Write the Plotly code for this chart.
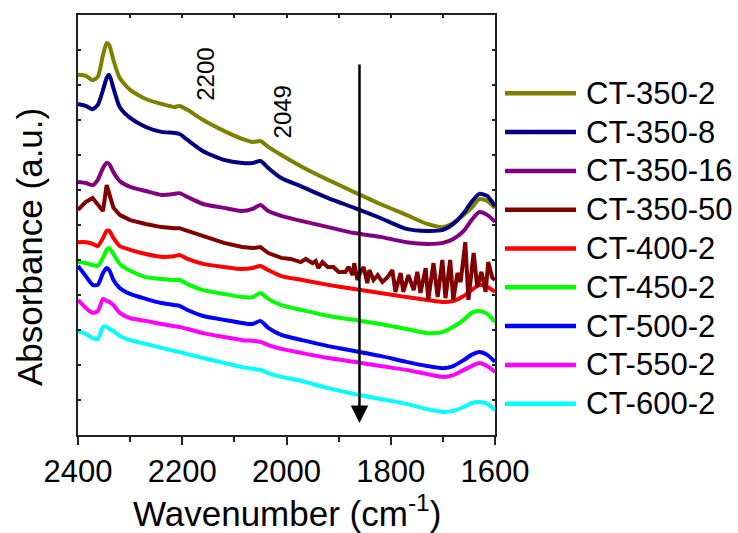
import plotly.graph_objects as go

# Shared wavenumber grid (cm^-1) for the smooth spectra
wavenumber = [2400, 2385, 2372, 2362, 2352, 2345, 2340, 2332, 2320, 2300,
              2270, 2240, 2215, 2205, 2190, 2160, 2120, 2085, 2065, 2050,
              2035, 2010, 1970, 1920, 1870, 1820, 1770, 1730, 1700, 1680,
              1660, 1645, 1630, 1615, 1600]

ct_350_2 = [10.29, 10.26, 10.14, 10.23, 10.86, 11.2, 11.14, 10.71, 10.2, 9.86,
            9.6, 9.46, 9.37, 9.4, 9.29, 9.0, 8.69, 8.46, 8.37, 8.4,
            8.23, 8.0, 7.66, 7.29, 6.94, 6.6, 6.29, 6.03, 5.94, 6.06,
            6.29, 6.49, 6.74, 6.69, 6.49]
ct_350_8 = [9.46, 9.4, 9.31, 9.43, 9.86, 10.2, 10.29, 9.91, 9.37, 9.06,
            8.8, 8.66, 8.63, 8.6, 8.43, 8.11, 7.86, 7.77, 7.77, 7.83,
            7.63, 7.34, 7.09, 6.77, 6.49, 6.2, 5.89, 5.83, 5.86, 6.03,
            6.34, 6.66, 6.89, 6.83, 6.54]
ct_350_16 = [7.23, 7.2, 7.14, 7.29, 7.63, 7.77, 7.74, 7.51, 7.26, 7.09,
             6.97, 6.86, 6.89, 6.91, 6.8, 6.6, 6.49, 6.4, 6.46, 6.57,
             6.4, 6.26, 6.11, 5.94, 5.77, 5.66, 5.51, 5.46, 5.49, 5.6,
             5.83, 6.14, 6.37, 6.29, 6.09]
ct_400_2 = [5.51, 5.51, 5.46, 5.4, 5.63, 5.83, 5.83, 5.63, 5.4, 5.29,
            5.17, 5.09, 5.11, 5.14, 5.03, 4.89, 4.8, 4.74, 4.77, 4.83,
            4.71, 4.54, 4.43, 4.29, 4.17, 4.06, 3.94, 3.86, 3.8, 3.83,
            3.97, 4.14, 4.29, 4.23, 4.09]
ct_450_2 = [4.94, 4.91, 4.86, 4.83, 5.06, 5.29, 5.34, 5.17, 4.89, 4.69,
            4.51, 4.46, 4.43, 4.43, 4.31, 4.14, 4.03, 3.94, 3.94, 4.06,
            3.89, 3.71, 3.57, 3.4, 3.29, 3.17, 3.03, 2.91, 2.94, 3.09,
            3.29, 3.49, 3.54, 3.46, 3.23]
ct_500_2 = [4.83, 4.54, 4.29, 4.29, 4.63, 4.77, 4.71, 4.43, 4.2, 4.03,
            3.89, 3.77, 3.71, 3.69, 3.57, 3.4, 3.29, 3.2, 3.17, 3.26,
            3.06, 2.86, 2.71, 2.54, 2.4, 2.26, 2.09, 1.97, 1.91, 1.97,
            2.14, 2.29, 2.37, 2.29, 2.09]
ct_550_2 = [3.86, 3.63, 3.49, 3.54, 3.89, 3.83, 3.8, 3.71, 3.49, 3.34,
            3.26, 3.17, 3.11, 3.09, 3.03, 2.91, 2.8, 2.71, 2.69, 2.66,
            2.57, 2.46, 2.34, 2.2, 2.09, 1.97, 1.86, 1.74, 1.66, 1.71,
            1.86, 1.97, 2.06, 1.97, 1.8]
ct_600_2 = [2.97, 2.89, 2.77, 2.74, 3.09, 3.09, 3.03, 2.97, 2.83, 2.71,
            2.6, 2.49, 2.4, 2.37, 2.31, 2.2, 2.06, 1.94, 1.89, 1.86,
            1.77, 1.66, 1.54, 1.34, 1.17, 1.03, 0.89, 0.74, 0.66, 0.69,
            0.8, 0.91, 0.94, 0.89, 0.71]

# CT-350-50 is noisy below ~2000 cm^-1, so it has its own denser grid
wavenumber_350_50 = [2400, 2385, 2372, 2362, 2352, 2345, 2340, 2332, 2320, 2300,
                     2270, 2240, 2215, 2205, 2190, 2160, 2120, 2085, 2065, 2050,
                     2035, 2010, 1992, 1973, 1963, 1950, 1944, 1939, 1931, 1921,
                     1910, 1900, 1887, 1881, 1873, 1870, 1864, 1858, 1852, 1845,
                     1841, 1833, 1825, 1816, 1806, 1797, 1791, 1781, 1776, 1766,
                     1756, 1749, 1743, 1733, 1728, 1718, 1710, 1701, 1695, 1686,
                     1680, 1672, 1666, 1657, 1651, 1641, 1634, 1626, 1618, 1613,
                     1605, 1600]
ct_350_50 = [6.43, 6.66, 6.77, 6.57, 6.4, 7.14, 6.86, 6.49, 6.29, 6.14,
             6.03, 5.94, 5.91, 5.91, 5.83, 5.69, 5.49, 5.37, 5.34, 5.37,
             5.2, 5.06, 5.03, 4.94, 5.03, 4.91, 4.97, 4.77, 4.94, 4.8,
             4.8, 4.66, 4.66, 4.8, 4.57, 4.91, 4.43, 4.66, 4.8, 4.34,
             4.71, 4.43, 4.57, 4.37, 4.51, 4.71, 4.09, 4.63, 4.09, 4.57,
             4.14, 4.66, 4.06, 4.77, 3.86, 4.91, 3.94, 5.0, 3.91, 5.0,
             3.86, 4.63, 4.37, 5.51, 3.86, 5.2, 4.23, 4.66, 4.09, 4.94,
             4.49, 4.43]

names = ["CT-350-2", "CT-350-8", "CT-350-16", "CT-350-50", "CT-400-2",
         "CT-450-2", "CT-500-2", "CT-550-2", "CT-600-2"]
colors = ["#808000", "#000080", "#800080", "#800000", "#ff0000",
          "#00ff00", "#0000ff", "#ff00ff", "#00ffff"]

series = {
    "CT-350-2": (wavenumber, ct_350_2),
    "CT-350-8": (wavenumber, ct_350_8),
    "CT-350-16": (wavenumber, ct_350_16),
    "CT-350-50": (wavenumber_350_50, ct_350_50),
    "CT-400-2": (wavenumber, ct_400_2),
    "CT-450-2": (wavenumber, ct_450_2),
    "CT-500-2": (wavenumber, ct_500_2),
    "CT-550-2": (wavenumber, ct_550_2),
    "CT-600-2": (wavenumber, ct_600_2),
}

# marked band positions and the trend arrow
band_labels = [("2200", 2157, 10.31), ("2049", 2007, 9.24)]
arrow_wavenumber = 1860
arrow_from, arrow_to = 10.63, 0.34

FONT = "Arial, Liberation Sans, sans-serif"
W, H = 738, 533
ML, MR, MT, MB = 78, 243, 15, 98
plot_w, plot_h = W - ML - MR, H - MT - MB

fig = go.Figure()

draw_order = ["CT-350-2", "CT-350-8", "CT-350-16", "CT-400-2", "CT-350-50",
              "CT-450-2", "CT-500-2", "CT-550-2", "CT-600-2"]
for name in draw_order:
    wn, ab = series[name]
    col = colors[names.index(name)]
    noisy = name == "CT-350-50"
    fig.add_trace(go.Scatter(
        x=wn, y=ab, mode="lines", name=name, showlegend=False,
        line=dict(color=col, width=4,
                  shape="linear" if noisy else "spline",
                  smoothing=0.6 if not noisy else None),
    ))

shapes = []
annotations = []

# legend drawn as long line samples with labels
def px_to_paper_x(px):
    return (px - ML) / plot_w

def px_to_paper_y(py):
    return (H - MB - py) / plot_h

for i, (name, col) in enumerate(zip(names, colors)):
    py = 93.3 + 38.8 * i
    yp = px_to_paper_y(py)
    shapes.append(dict(type="line", xref="paper", yref="paper",
                       x0=px_to_paper_x(505), x1=px_to_paper_x(576),
                       y0=yp, y1=yp, line=dict(color=col, width=4.5)))
    annotations.append(dict(xref="paper", yref="paper", x=px_to_paper_x(584),
                            y=yp, text=name, showarrow=False,
                            xanchor="left", yanchor="middle",
                            font=dict(family=FONT, size=31, color="black")))

for txt, wx, wy in band_labels:
    annotations.append(dict(x=wx, y=wy, xref="x", yref="y", text=txt,
                            showarrow=False, textangle=-90,
                            font=dict(family=FONT, size=24, color="black")))

annotations.append(dict(x=arrow_wavenumber, y=arrow_to, xref="x", yref="y",
                        ax=arrow_wavenumber, ay=arrow_from, axref="x", ayref="y",
                        text="", showarrow=True, arrowhead=2, arrowsize=1.4,
                        arrowwidth=2.5, arrowcolor="black"))

# axis titles
annotations.append(dict(xref="paper", yref="paper", x=0.5, y=px_to_paper_y(511),
                        text="Wavenumber (cm<sup>-1</sup>)", showarrow=False,
                        xanchor="center", yanchor="middle",
                        font=dict(family=FONT, size=35, color="black")))
annotations.append(dict(xref="paper", yref="paper", x=px_to_paper_x(29),
                        y=px_to_paper_y(247), text="Absorbance (a.u.)",
                        showarrow=False, textangle=-90,
                        xanchor="center", yanchor="middle",
                        font=dict(family=FONT, size=35, color="black")))

fig.update_layout(
    width=W, height=H,
    margin=dict(l=ML, r=MR, t=MT, b=MB, pad=0),
    paper_bgcolor="white", plot_bgcolor="white",
    showlegend=False,
    shapes=shapes, annotations=annotations,
    xaxis=dict(range=[2400, 1600], tickmode="array",
               tickvals=[2400, 2200, 2000, 1800, 1600],
               ticktext=["2400", "2200", "2000", "1800", "1600"],
               ticks="outside", ticklen=8, tickwidth=1.5, tickcolor="#222",
               minor=dict(tickmode="linear", tick0=2400, dtick=100,
                          ticks="outside", ticklen=5, tickwidth=1.5,
                          tickcolor="#222"),
               showline=True, linecolor="#222", linewidth=1.5,
               showgrid=False, zeroline=False,
               tickfont=dict(family=FONT, size=31, color="black")),
    xaxis2=dict(range=[2400, 1600], overlaying="x", side="top",
                tickmode="linear", tick0=2400, dtick=100,
                ticks="inside", ticklen=3, tickwidth=1.5, tickcolor="#222",
                showticklabels=False, showline=True, linecolor="#222",
                linewidth=1.5, showgrid=False, zeroline=False),
    yaxis=dict(range=[0, 12], tickmode="linear", tick0=0, dtick=1,
               ticks="inside", ticklen=3, tickwidth=1.5, tickcolor="#222",
               mirror="ticks", showticklabels=False,
               showline=True, linecolor="#222", linewidth=1.5,
               showgrid=False, zeroline=False),
)

# empty trace that keeps the top axis drawn
fig.add_trace(go.Scatter(x=[], y=[], xaxis="x2", yaxis="y", showlegend=False))

fig.write_html("out.html")
